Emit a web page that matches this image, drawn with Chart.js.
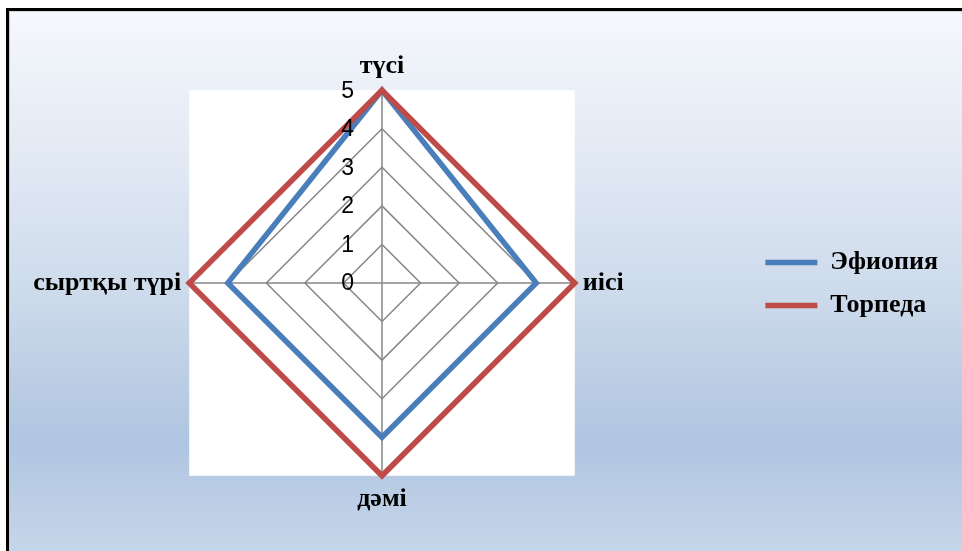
<!DOCTYPE html>
<html>
<head>
<meta charset="utf-8">
<script src="https://cdn.jsdelivr.net/npm/chart.js@4.4.0/dist/chart.umd.min.js"></script>
<style>
  html, body { margin: 0; padding: 0; width: 962px; height: 551px; overflow: hidden; background: #fff; }
  #frame {
    position: absolute; left: 6px; top: 8px; width: 1000px; height: 600px;
    border-top: 3px solid #000; border-left: 3px solid #000;
  }
  #fill {
    position: absolute; left: 0; top: 0; right: 0; bottom: 0;
    border-top: 1px solid #d4d8de; border-left: 1px solid #c8ccd2;
    background: linear-gradient(to bottom, #f5f8fc 0px, #e4ebf5 130px, #cfdcec 270px, #afc5e0 430px, #c6d6ea 540px, #c6d6ea 600px);
  }
  #chart { position: absolute; left: 0; top: 0; }
</style>
</head>
<body>
<div id="frame"><div id="fill"></div></div>
<canvas id="chart" width="962" height="551"></canvas>
<script>
const categories = ["түсі", "иісі", "дәмі", "сыртқы түрі"];
const seriesNames = ["Эфиопия", "Торпеда"];
const ethiopiaValues = [5, 4, 4, 4];
const torpedaValues = [5, 5, 5, 5];
const tickLabels = ["0", "1", "2", "3", "4", "5"];

const BLUE = "#4a7ebb";
const RED = "#be4b48";
const GRID = "#868686";

// white square behind the radar web
const plotBackground = {
  id: "plotBackground",
  beforeDraw(chart) {
    const scale = chart.scales.r;
    const r = scale.drawingArea;
    const ctx = chart.ctx;
    ctx.save();
    ctx.fillStyle = "#ffffff";
    ctx.fillRect(scale.xCenter - r, scale.yCenter - r, r * 2, r * 2);
    ctx.restore();
  },
};

// value labels sit left of the vertical axis, over the lines
const tickText = {
  id: "tickText",
  afterDatasetsDraw(chart) {
    const scale = chart.scales.r;
    const ctx = chart.ctx;
    ctx.save();
    ctx.font = '23px "Liberation Sans"';
    ctx.fillStyle = "#000";
    ctx.textAlign = "right";
    ctx.textBaseline = "middle";
    tickLabels.forEach((label) => {
      const pos = scale.getPointPositionForValue(0, Number(label));
      ctx.fillText(label, pos.x - 28, pos.y + 1);
    });
    ctx.restore();
  },
};

new Chart(document.getElementById("chart"), {
  type: "radar",
  data: {
    labels: categories,
    datasets: [
      {
        label: seriesNames[0],
        data: ethiopiaValues,
        borderColor: BLUE,
        backgroundColor: BLUE,
        borderWidth: 5.5,
        borderCapStyle: "round",
        borderJoinStyle: "miter",
        fill: false,
        pointRadius: 0,
        order: 1,
      },
      {
        label: seriesNames[1],
        data: torpedaValues,
        borderColor: RED,
        backgroundColor: RED,
        borderWidth: 5.5,
        borderCapStyle: "round",
        borderJoinStyle: "miter",
        fill: false,
        pointRadius: 0,
        order: 0,
      },
    ],
  },
  options: {
    responsive: false,
    animation: false,
    layout: {
      padding: { left: 2, right: 14, top: 52, bottom: 35 },
    },
    plugins: {
      tooltip: { enabled: false },
      legend: {
        position: "right",
        labels: {
          usePointStyle: true,
          pointStyle: "line",
          pointStyleWidth: 52,
          padding: 17,
          color: "#000",
          font: { family: '"Liberation Serif"', size: 26, weight: "bold" },
          sort: (a, b) => a.datasetIndex - b.datasetIndex,
        },
      },
    },
    scales: {
      r: {
        min: 0,
        max: 5,
        ticks: { display: false, stepSize: 1 },
        grid: { color: GRID, lineWidth: 1.5 },
        angleLines: { color: GRID, lineWidth: 1.5 },
        pointLabels: {
          color: "#000",
          padding: 8,
          font: { family: '"Liberation Serif"', size: 26, weight: "bold" },
        },
      },
    },
  },
  plugins: [plotBackground, tickText],
});
</script>
</body>
</html>
